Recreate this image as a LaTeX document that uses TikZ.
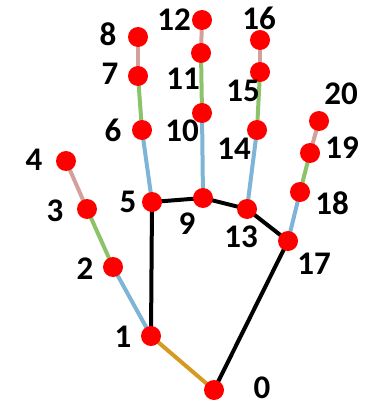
\documentclass[tikz,border=0pt]{standalone}
\usepackage{fontspec}
\setmainfont{Carlito}
\definecolor{cOr}{HTML}{D49A22}
\definecolor{cBl}{HTML}{7EB4D6}
\definecolor{cGr}{HTML}{8CC36A}
\definecolor{cPk}{HTML}{D4A09C}
\definecolor{cRd}{HTML}{FF0000}
\begin{document}
\begin{tikzpicture}[x=1pt,y=-1pt,
  kp/.style={circle,fill=cRd,inner sep=0pt,minimum size=20pt},
  lbl/.style={font=\fontsize{33}{33}\selectfont\bfseries,inner sep=0pt},
  bone/.style={line width=4pt},
  palm/.style={bone,black},
  b1/.style={bone,cBl},
  b2/.style={bone,cGr},
  b3/.style={bone,cPk},
  b0/.style={bone,cOr}]
\useasboundingbox (0,0) rectangle (375,406);
\coordinate (p0) at (214,390);
\coordinate (p1) at (151,336);
\coordinate (p2) at (113,267);
\coordinate (p3) at (87,209);
\coordinate (p4) at (66,161);
\coordinate (p5) at (152,202);
\coordinate (p6) at (142,130);
\coordinate (p7) at (138,76);
\coordinate (p8) at (138,37);
\coordinate (p9) at (203,198);
\coordinate (p10) at (202,113);
\coordinate (p11) at (201,53);
\coordinate (p12) at (202,20);
\coordinate (p13) at (247,209);
\coordinate (p14) at (257,130);
\coordinate (p15) at (260,72);
\coordinate (p16) at (260,40);
\coordinate (p17) at (288,241);
\coordinate (p18) at (300,192);
\coordinate (p19) at (310,153);
\coordinate (p20) at (319,121);
% palm
\draw[palm] (p1) -- (p5) -- (p9) -- (p13) -- (p17) -- (p0);
\draw[b0] (p0) -- (p1);
% thumb
\draw[b1] (p1) -- (p2); \draw[b2] (p2) -- (p3); \draw[b3] (p3) -- (p4);
% index
\draw[b1] (p5) -- (p6); \draw[b2] (p6) -- (p7); \draw[b3] (p7) -- (p8);
% middle
\draw[b1] (p9) -- (p10); \draw[b2] (p10) -- (p11); \draw[b3] (p11) -- (p12);
% ring
\draw[b1] (p13) -- (p14); \draw[b2] (p14) -- (p15); \draw[b3] (p15) -- (p16);
% pinky
\draw[b1] (p17) -- (p18); \draw[b2] (p18) -- (p19); \draw[b3] (p19) -- (p20);
% keypoints
\foreach \i in {0,...,20} { \node[kp] (k\i) at (p\i) {}; }
% labels
\node[lbl] (l0) at (262,388) {0};
\node[lbl] (l1) at (123,337) {1};
\node[lbl] (l2) at (85,269) {2};
\node[lbl] (l3) at (55,211) {3};
\node[lbl] (l4) at (34,160) {4};
\node[lbl] (l5) at (128,202) {5};
\node[lbl] (l6) at (113,130) {6};
\node[lbl] (l7) at (110,74) {7};
\node[lbl] (l8) at (108,34) {8};
\node[lbl] (l9) at (187,224) {9};
\node[lbl] (l10) at (182,131) {10};
\node[lbl] (l11) at (183,79) {11};
\node[lbl] (l12) at (174,20) {12};
\node[lbl] (l13) at (241,237) {13};
\node[lbl] (l14) at (234,149) {14};
\node[lbl] (l15) at (243,91) {15};
\node[lbl] (l16) at (259,18) {16};
\node[lbl] (l17) at (314,264) {17};
\node[lbl] (l18) at (332,203) {18};
\node[lbl] (l19) at (342,148) {19};
\node[lbl] (l20) at (341,94) {20};
\end{tikzpicture}
\end{document}
